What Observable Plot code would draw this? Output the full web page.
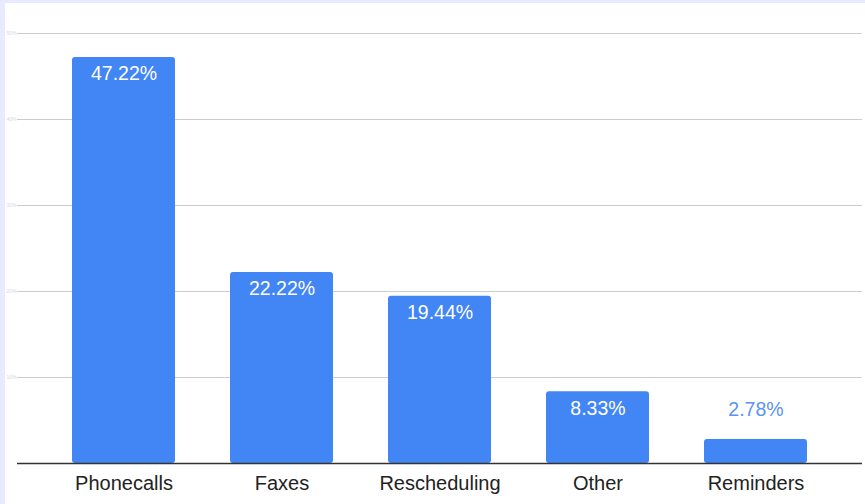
<!DOCTYPE html>
<html>
<head>
<meta charset="utf-8">
<script src="https://cdn.jsdelivr.net/npm/d3@7"></script>
<script src="https://cdn.jsdelivr.net/npm/@observablehq/plot@0.6"></script>
<style>
  html, body { margin: 0; padding: 0; background: #e8eaff; width: 865px; height: 504px; overflow: hidden; }
  #chart { position: absolute; left: 5px; top: 3px; width: 860px; height: 501px; background: #fff; }
</style>
</head>
<body>
<div id="chart"></div>
<script>
const categories = ["Phonecalls", "Faxes", "Rescheduling", "Other", "Reminders"];
const values = [47.22, 22.22, 19.44, 8.33, 2.78];
const labels = ["47.22%", "22.22%", "19.44%", "8.33%", "2.78%"];
const gridTicks = [10, 20, 30, 40, 50];

const data = categories.map((c, i) => ({ category: c, value: values[i], label: labels[i] }));
const inside = data.filter(d => d.value >= 5);
const outside = data.filter(d => d.value < 5);

const chart = Plot.plot({
  width: 860,
  height: 501,
  marginLeft: 12,
  marginRight: 3,
  marginTop: 30,
  marginBottom: 41,
  style: { fontFamily: "'Liberation Sans', Arial, sans-serif", fontSize: "20px", background: "#fff", overflow: "hidden" },
  x: { domain: categories, padding: 0.347, label: null },
  y: { domain: [0, 50], label: null },
  marks: [
    Plot.ruleY(gridTicks, { stroke: "#cccccc", strokeWidth: 1 }),
    Plot.axisY(gridTicks, { tickSize: 0, tickPadding: 1, tickFormat: d => d + "%", fill: "#d4d6e8", fontSize: 5, label: null }),
    Plot.barY(data, { x: "category", y: "value", fill: "#4285f4", rx: 3 }),
    Plot.ruleY([0], { stroke: "#333", strokeWidth: 1.5 }),
    Plot.text(inside, { x: "category", y: "value", text: "label", fill: "#fff", lineAnchor: "bottom", dy: 23, fontSize: 19.5 }),
    Plot.text(outside, { x: "category", y: "value", text: "label", fill: "#5b93f2", lineAnchor: "bottom", dy: -24, fontSize: 19.5 }),
    Plot.axisX({ tickSize: 0, tickPadding: 12, fill: "#222", fontSize: 20, label: null })
  ]
});
document.getElementById("chart").appendChild(chart);
</script>
</body>
</html>
